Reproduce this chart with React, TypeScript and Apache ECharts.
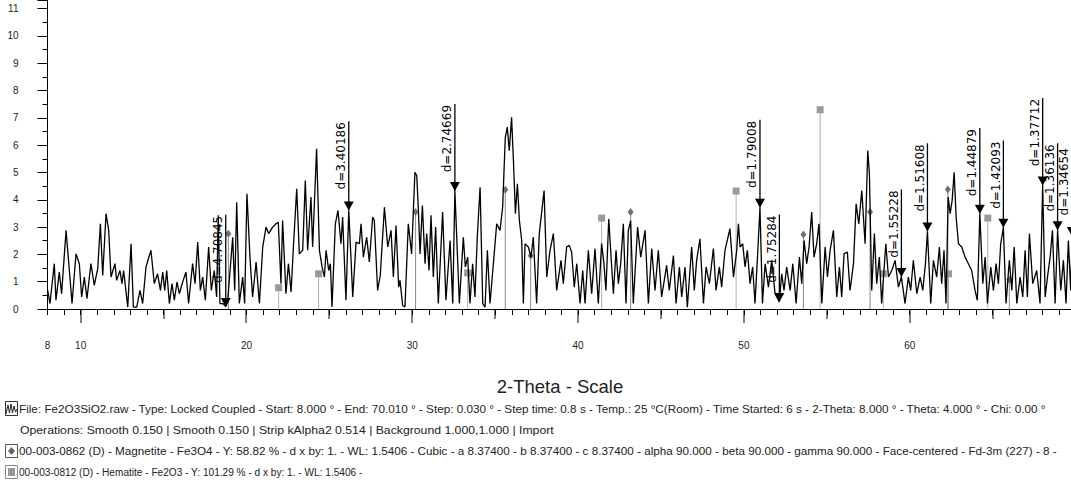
import React, { useEffect, useRef } from 'react';
import * as echarts from 'echarts';

// XRD trace: [2-theta, intensity]
const trace: [number, number][] = [
  [8.01,0.68],[8.15,0.2],[8.41,1.66],[8.51,0.32],[8.71,1.35],[8.85,0.56],[9.12,2.88],[9.48,0.2],[9.72,2.02],[9.92,1.66],
  [10.06,0.44],[10.22,1.17],[10.38,0.38],[10.62,1.66],[10.82,0.87],[11.03,1.48],[11.19,3.12],[11.33,1.23],[11.53,3.49],[11.69,2.88],
  [11.83,1.17],[12.07,1.66],[12.17,1.05],[12.37,1.41],[12.49,0.93],[12.59,1.41],[12.84,0.07],[13.04,2.39],[13.18,0.07],[13.38,0.07],
  [13.58,0.68],[13.74,0.2],[13.94,1.54],[14.24,2.15],[14.44,0.93],[14.64,1.29],[14.81,0.68],[14.95,1.35],[15.07,0.68],[15.19,1.41],
  [15.35,0.2],[15.51,0.93],[15.65,0.32],[15.81,0.99],[15.95,0.56],[16.15,0.99],[16.35,1.35],[16.51,0.2],[16.75,1.66],[16.9,0.93],
  [17.06,2.45],[17.22,0.68],[17.36,1.17],[17.52,0.32],[17.72,2.27],[17.88,0.68],[18.06,1.41],[18.2,0.44],[18.3,3.43],[18.4,0.2],
  [18.57,0.2],[18.75,0.1],[18.87,0.32],[19.17,2.63],[19.29,0.68],[19.41,3.91],[19.57,0.2],[19.77,1.17],[19.89,0.2],[20.03,4.22],
  [20.21,1.9],[20.37,0.44],[20.58,1.72],[20.78,0.2],[20.98,2.27],[21.18,3.0],[21.34,2.76],[21.58,3.0],[21.78,3.12],[21.92,3.18],
  [22.08,0.93],[22.18,3.24],[22.38,0.56],[22.53,1.66],[22.69,0.62],[22.83,2.27],[23.03,4.4],[23.19,2.02],[23.39,2.15],[23.55,4.71],
  [23.69,2.15],[23.89,4.1],[23.99,2.27],[24.23,5.87],[24.4,2.15],[24.56,1.54],[24.7,1.17],[24.8,2.15],[24.96,1.41],[25.06,1.66],
  [25.16,0.07],[25.36,3.12],[25.52,3.61],[25.7,2.39],[25.8,3.37],[26.0,0.32],[26.17,3.61],[26.41,0.44],[26.61,2.45],[26.81,2.39],
  [26.91,3.12],[27.05,1.9],[27.25,2.63],[27.41,1.72],[27.61,3.37],[27.71,3.24],[27.91,0.68],[28.07,1.23],[28.32,3.73],[28.52,2.27],
  [28.72,2.88],[28.86,1.17],[29.02,3.06],[29.18,0.8],[29.26,1.05],[29.42,0.13],[29.56,0.07],[29.76,3.12],[29.96,2.02],[30.16,5.01],
  [30.27,4.89],[30.37,3.61],[30.47,2.02],[30.61,3.79],[30.77,1.66],[30.87,2.76],[31.01,1.41],[31.13,3.43],[31.27,1.17],[31.41,3.0],
  [31.57,0.2],[31.83,3.55],[32.03,0.32],[32.28,2.51],[32.44,0.2],[32.57,4.32],[32.84,0.2],[33.08,2.63],[33.2,1.54],[33.34,1.9],
  [33.48,0.2],[33.64,1.66],[33.78,0.44],[33.92,2.63],[34.09,4.46],[34.25,0.2],[34.39,0.07],[34.53,2.15],[34.69,0.2],[34.89,1.66],
  [35.09,3.12],[35.29,2.88],[35.45,3.73],[35.61,6.29],[35.73,6.66],[35.85,5.8],[35.99,7.02],[36.1,5.44],[36.22,3.49],[36.34,4.59],
  [36.46,3.24],[36.6,2.51],[36.7,0.2],[36.8,2.39],[37.0,2.27],[37.16,1.9],[37.3,2.63],[37.5,0.2],[37.66,2.76],[37.95,4.34],
  [38.11,1.17],[38.31,2.15],[38.51,2.76],[38.71,0.68],[38.97,1.78],[39.11,0.93],[39.31,2.27],[39.47,2.33],[39.61,2.09],[39.77,0.8],
  [39.92,1.66],[40.12,0.2],[40.28,1.41],[40.42,0.2],[40.62,2.15],[40.82,0.56],[41.02,2.21],[41.22,0.2],[41.42,2.4],[41.56,1.66],
  [41.68,0.68],[41.85,3.3],[41.99,1.9],[42.13,0.56],[42.29,2.15],[42.43,0.93],[42.57,1.66],[42.73,3.12],[42.89,0.2],[43.03,2.88],
  [43.17,3.24],[43.33,0.2],[43.59,3.0],[43.78,1.9],[44.04,2.88],[44.24,0.2],[44.44,2.21],[44.64,0.68],[44.84,2.15],[45.04,0.44],
  [45.34,1.6],[45.5,0.68],[45.75,1.96],[45.91,0.2],[46.11,1.54],[46.25,0.44],[46.45,1.54],[46.59,0.07],[46.85,2.27],[47.01,0.68],
  [47.15,1.78],[47.35,2.57],[47.56,0.2],[47.72,1.54],[47.92,0.93],[48.16,2.21],[48.32,0.68],[48.52,1.54],[48.66,0.8],[48.86,2.15],
  [49.16,2.94],[49.37,1.17],[49.57,2.15],[49.67,3.12],[49.77,2.27],[49.93,2.39],[50.07,1.54],[50.21,2.15],[50.37,0.93],[50.53,1.54],
  [50.67,0.2],[50.82,1.9],[50.97,3.71],[51.12,0.2],[51.28,1.66],[51.48,0.8],[51.68,1.78],[51.88,0.56],[52.14,0.26],[52.28,1.29],
  [52.42,0.68],[52.58,1.54],[52.79,0.68],[52.95,1.66],[53.15,0.2],[53.35,1.9],[53.49,0.93],[53.63,2.51],[53.79,1.66],[53.93,2.27],
  [54.09,3.55],[54.23,1.9],[54.39,2.39],[54.53,3.12],[54.7,0.2],[54.9,2.27],[55.04,1.17],[55.2,2.15],[55.4,2.88],[55.6,0.44],
  [55.76,1.54],[55.9,0.44],[56.04,2.02],[56.24,2.09],[56.4,0.68],[56.61,1.66],[56.77,3.85],[56.93,3.12],[57.11,4.34],[57.31,2.39],
  [57.47,5.8],[57.57,4.95],[57.71,0.68],[57.87,2.76],[58.01,0.93],[58.17,1.9],[58.31,0.2],[58.56,2.39],[58.72,1.17],[58.92,1.41],
  [59.12,1.78],[59.32,0.8],[59.5,1.17],[59.72,0.2],[59.92,1.17],[60.06,0.68],[60.22,1.78],[60.43,0.56],[60.63,1.17],[60.79,0.68],
  [60.95,1.66],[61.07,2.84],[61.27,0.2],[61.43,1.78],[61.63,1.17],[61.79,2.27],[61.93,0.93],[62.07,2.15],[62.19,0.2],[62.32,4.1],
  [62.44,3.49],[62.56,3.98],[62.68,5.01],[62.8,3.37],[62.94,2.39],[63.14,2.27],[63.34,1.9],[63.54,1.66],[63.74,1.41],[63.94,0.68],
  [64.08,0.32],[64.23,3.49],[64.41,0.93],[64.55,1.9],[64.69,0.2],[64.89,1.54],[65.05,0.68],[65.21,1.66],[65.35,0.93],[65.49,2.39],
  [65.65,2.98],[65.81,0.2],[66.01,1.78],[66.16,0.68],[66.3,2.27],[66.46,0.2],[66.66,1.17],[66.82,0.44],[66.96,2.15],[67.1,0.44],
  [67.22,2.76],[67.42,0.93],[67.66,1.41],[67.86,0.2],[68.02,4.52],[68.17,0.44],[68.31,1.17],[68.47,1.9],[68.61,2.88],[68.77,0.2],
  [68.92,2.88],[69.11,0.68],[69.27,1.78],[69.43,0.2],[69.57,2.51],[69.71,0.68],[69.8,2.67],[70.0,1.0]
];

// Reference patterns: [2-theta, stick height]
const magnetiteSticks: [number, number][] = [
  [18.91,2.76],[30.2,3.55],[35.61,4.37],[37.14,1.95],[43.17,3.55],[53.59,2.73],[57.61,3.55],[62.3,4.38],[66.01,1.07]
];
const hematiteSticks: [number, number][] = [
  [21.94,0.78],[24.35,1.29],[33.34,1.32],[41.42,3.33],[49.53,4.32],[54.6,7.3],[58.41,1.29],[62.34,1.29],[64.71,3.33]
];

// Peak annotations
const peakLabels: string[] = ['d=4.70845','d=3.40186','d=2.74669','d=1.79008','d=1.75284','d=1.55228','d=1.51608','d=1.44879','d=1.42093','d=1.37712','d=1.36136','d=1.34654'];
const peakTheta: number[] = [18.75, 26.17, 32.57, 50.97, 52.14, 59.5, 61.07, 64.23, 65.65, 68.02, 68.92, 69.78];
const peakTip: number[] = [0.07, 3.61, 4.32, 3.71, 0.26, 1.17, 2.84, 3.49, 2.98, 4.52, 2.88, 2.67];
const peakTop: number[] = [3.45, 6.88, 7.51, 6.93, 3.46, 4.38, 6.07, 6.63, 6.17, 7.73, 6.07, 5.93];

const midTicksX: number[] = [15, 25, 35, 45, 55, 65];
const majorTicksX: number[] = [10, 20, 30, 40, 50, 60, 70];

const legendLines: string[] = [
  'File: Fe2O3SiO2.raw - Type: Locked Coupled - Start: 8.000 ° - End: 70.010 ° - Step: 0.030 ° - Step time: 0.8 s - Temp.: 25 °C(Room) - Time Started: 6 s - 2-Theta: 8.000 ° - Theta: 4.000 ° - Chi: 0.00 °',
  'Operations: Smooth 0.150 | Smooth 0.150 | Strip kAlpha2 0.514 | Background 1.000,1.000 | Import',
  '00-003-0862 (D) - Magnetite - Fe3O4 - Y: 58.82 % - d x by: 1. - WL: 1.5406 - Cubic - a 8.37400 - b 8.37400 - c 8.37400 - alpha 90.000 - beta 90.000 - gamma 90.000 - Face-centered - Fd-3m (227) - 8 -',
  '00-003-0812 (D) - Hematite - Fe2O3 - Y: 101.29 % - d x by: 1. - WL: 1.5406 -'
];

const FONT = '"Liberation Sans", Arial, sans-serif';
const TICK = '#000';

export default function App() {
  const ref = useRef<HTMLDivElement>(null);
  useEffect(() => {
    if (!ref.current) return;
    const chart = echarts.init(ref.current, undefined, { renderer: 'svg' });

    const tickSeries = (vals: number[], len: number) => ({
      type: 'custom',
      clip: false,
      silent: true,
      z: 5,
      encode: { x: 0, y: 1 },
      data: vals.map((v) => [v, 0]),
      renderItem: (params: any, api: any) => {
        const p = api.coord([api.value(0), 0]);
        return {
          type: 'rect',
          shape: { x: Math.round(p[0]) - 0.5, y: p[1], width: 1, height: len },
          style: { fill: TICK },
        };
      },
    });

    const stickSeries = (vals: [number, number][], kind: 'diamond' | 'square') => ({
      type: 'custom',
      clip: false,
      silent: true,
      z: 1,
      encode: { x: 0, y: 1 },
      data: vals,
      renderItem: (params: any, api: any) => {
        const x = api.value(0);
        const h = api.value(1);
        const p0 = api.coord([x, 0]);
        const p1 = api.coord([x, h]);
        const marker = kind === 'square'
          ? { type: 'rect', shape: { x: p1[0] - 3.5, y: p1[1] - 3.5, width: 7, height: 7 }, style: { fill: '#9a9a9a' } }
          : { type: 'polygon', shape: { points: [[p1[0], p1[1] - 4], [p1[0] + 3, p1[1]], [p1[0], p1[1] + 4], [p1[0] - 3, p1[1]]] }, style: { fill: '#707070' } };
        return {
          type: 'group',
          children: [
            { type: 'line', shape: { x1: p0[0], y1: p0[1], x2: p1[0], y2: p1[1] }, style: { stroke: kind === 'square' ? '#b0b0b0' : '#8a8a8a', lineWidth: 1 } },
            marker,
          ],
        };
      },
    });

    const annotationData = peakTheta.map((t, i) => [t, peakTip[i], peakTop[i]]);

    const legendText = (i: number, x: number, y: number, sx: number) => ({
      type: 'text',
      x,
      y,
      scaleX: sx,
      style: { text: legendLines[i], fontSize: 11, fontFamily: FONT, fill: '#222', verticalAlign: 'middle' },
    });

    chart.setOption({
      animation: false,
      grid: { left: 47.5, right: -4.5, top: 0.5, bottom: 182, outerBoundsMode: 'none' },
      xAxis: {
        type: 'value',
        min: 8,
        max: 70,
        interval: 1,
        axisLine: { show: true, onZero: false, lineStyle: { color: '#000', width: 1 } },
        axisTick: { show: true, length: 6, lineStyle: { color: TICK, width: 1 } },
        splitLine: { show: false },
        axisLabel: {
          margin: 31,
          fontSize: 10,
          color: '#222',
          fontFamily: FONT,
          formatter: (v: number) => (v === 8 || (v % 10 === 0 && v < 70) ? String(v) : ''),
        },
      },
      yAxis: {
        type: 'value',
        min: 0,
        max: 11.3,
        interval: 1,
        axisLine: { show: true, lineStyle: { color: '#000', width: 1 } },
        axisTick: { show: true, length: 10, lineStyle: { color: TICK, width: 1 } },
        minorTick: { show: true, splitNumber: 2, length: 5, lineStyle: { color: TICK, width: 1 } },
        splitLine: { show: false },
        axisLabel: {
          margin: 29,
          fontSize: 10,
          color: '#222',
          fontFamily: FONT,
          formatter: (v: number) => (Number.isInteger(v) ? String(v) : ''),
        },
      },
      series: [
        stickSeries(hematiteSticks, 'square'),
        stickSeries(magnetiteSticks, 'diamond'),
        {
          type: 'line',
          data: trace,
          showSymbol: false,
          z: 3,
          clip: true,
          lineStyle: { color: '#000', width: 1.3 },
        },
        {
          type: 'custom',
          clip: false,
          silent: true,
          z: 4,
          encode: { x: 0, y: 1 },
          data: annotationData,
          renderItem: (params: any, api: any) => {
            const x = api.value(0);
            const tip = api.coord([x, api.value(1)]);
            const top = api.coord([x, api.value(2)]);
            return {
              type: 'group',
              children: [
                { type: 'line', shape: { x1: tip[0], y1: top[1], x2: tip[0], y2: tip[1] }, style: { stroke: '#000', lineWidth: 1.3 } },
                { type: 'polygon', shape: { points: [[tip[0] - 5, tip[1] - 9], [tip[0] + 5, tip[1] - 9], [tip[0], tip[1]]] }, style: { fill: '#000' } },
                {
                  type: 'text',
                  x: tip[0] - 1.5,
                  y: top[1] + 1,
                  rotation: Math.PI / 2,
                  style: {
                    text: peakLabels[params.dataIndex],
                    fontSize: 12,
                    fontFamily: '"DejaVu Sans", sans-serif',
                    fill: '#000',
                    align: 'right',
                    verticalAlign: 'bottom',
                  },
                },
              ],
            };
          },
        },
        tickSeries(midTicksX, 10),
        tickSeries(majorTicksX, 14),
      ],
      graphic: [
        { type: 'text', x: 560, y: 386, style: { text: '2-Theta - Scale', fontSize: 18.5, fontFamily: FONT, fill: '#222', align: 'center', verticalAlign: 'middle' } },
        // legend icons
        { type: 'rect', shape: { x: 5.5, y: 401.5, width: 12, height: 14 }, style: { fill: '#fff', stroke: '#333', lineWidth: 1 } },
        { type: 'polyline', shape: { points: [[6, 414], [8, 405], [9.5, 413], [11, 404], [12.5, 413], [14, 406], [15.5, 412], [17, 409]] }, style: { stroke: '#222', fill: 'none', lineWidth: 1 } },
        { type: 'rect', shape: { x: 5.5, y: 444.5, width: 12, height: 13 }, style: { fill: '#fff', stroke: '#555', lineWidth: 1 } },
        { type: 'polygon', shape: { points: [[11.5, 447], [15, 451], [11.5, 455], [8, 451]] }, style: { fill: '#666' } },
        { type: 'rect', shape: { x: 5.5, y: 465.5, width: 12, height: 13 }, style: { fill: '#fff', stroke: '#888', lineWidth: 1 } },
        { type: 'rect', shape: { x: 8, y: 468, width: 7, height: 8 }, style: { fill: '#999' } },
        legendText(0, 19, 409, 1.066),
        legendText(1, 20, 430, 1.114),
        legendText(2, 19, 451, 1.063),
        legendText(3, 19, 472, 0.92),
      ],
    });
    return () => chart.dispose();
  }, []);
  return <div ref={ref} style={{ position: 'fixed', left: 0, top: 0, width: 1071, height: 491, background: '#fff' }} />;
}
